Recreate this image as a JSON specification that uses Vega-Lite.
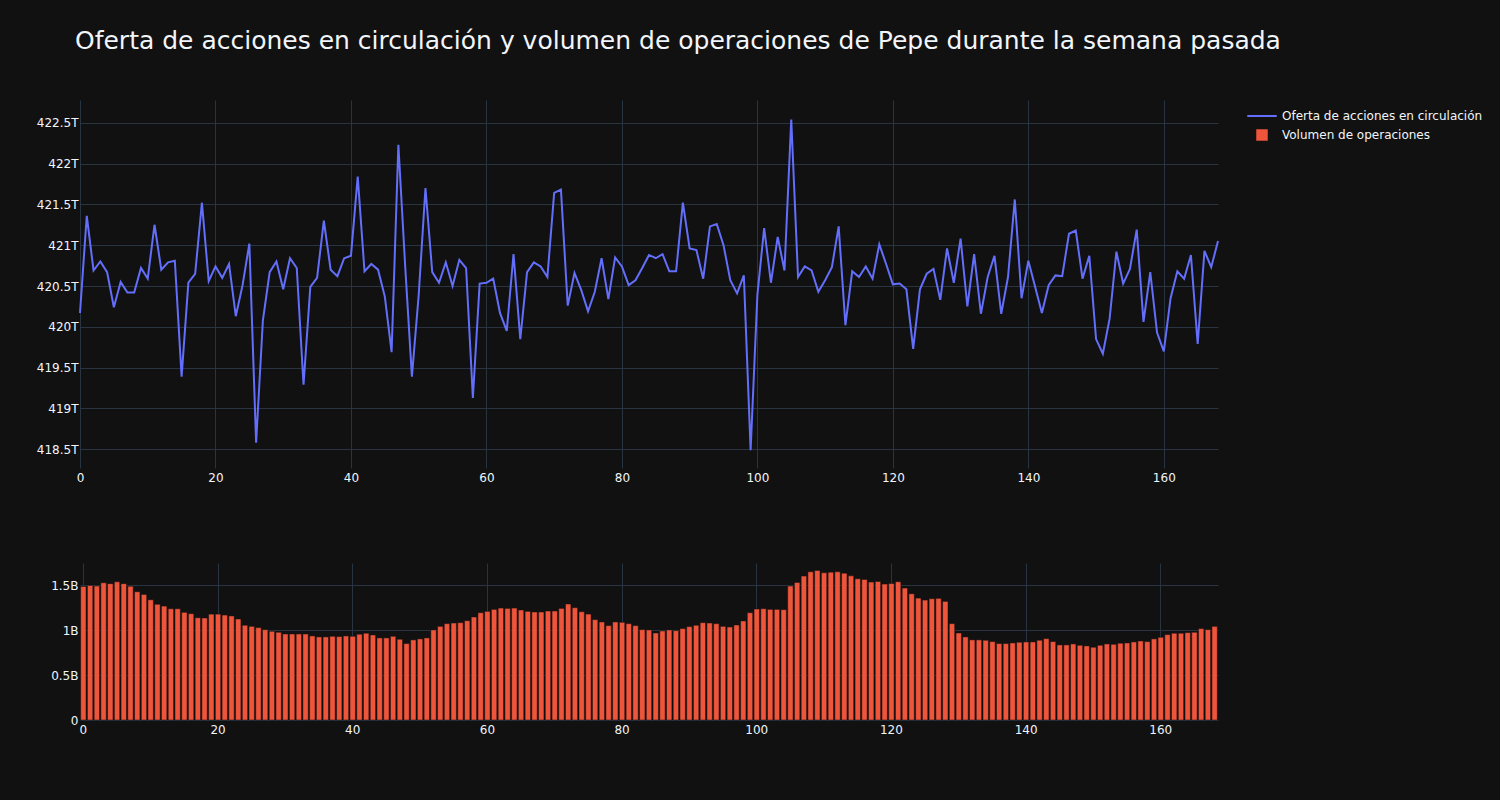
{
  "$schema": "https://vega.github.io/schema/vega-lite/v6.json",
  "background": "#111111",
  "autosize": {"type": "none"},
  "padding": {"left": 80, "top": 100, "right": 1420, "bottom": 700},
  "title": {"text": "Oferta de acciones en circulación y volumen de operaciones de Pepe durante la semana pasada", "anchor": "start", "frame": "group", "font": "DejaVu Sans", "fontSize": 25, "fontWeight": "normal", "color": "#f2f5fa", "offset": 46, "dx": -5},
  "spacing": 75,
  "config": {
    "view": {"stroke": null},
    "font": "DejaVu Sans",
    "axis": {"gridColor": "#283442", "gridWidth": 1, "domain": false, "ticks": false, "labelColor": "#f2f5fa", "labelFont": "DejaVu Sans", "labelFontSize": 12, "title": null}
  },
  "datasets": {
    "oferta": [
      {"x":0,"y":420.17},{"x":1,"y":421.36},{"x":2,"y":420.69},{"x":3,"y":420.80},{"x":4,"y":420.67},{"x":5,"y":420.24},{"x":6,"y":420.55},{"x":7,"y":420.42},{"x":8,"y":420.42},{"x":9,"y":420.72},
      {"x":10,"y":420.59},{"x":11,"y":421.25},{"x":12,"y":420.70},{"x":13,"y":420.79},{"x":14,"y":420.81},{"x":15,"y":419.39},{"x":16,"y":420.54},{"x":17,"y":420.65},{"x":18,"y":421.52},{"x":19,"y":420.56},
      {"x":20,"y":420.74},{"x":21,"y":420.60},{"x":22,"y":420.77},{"x":23,"y":420.13},{"x":24,"y":420.51},{"x":25,"y":421.02},{"x":26,"y":418.58},{"x":27,"y":420.08},{"x":28,"y":420.67},{"x":29,"y":420.80},
      {"x":30,"y":420.46},{"x":31,"y":420.84},{"x":32,"y":420.72},{"x":33,"y":419.29},{"x":34,"y":420.49},{"x":35,"y":420.60},{"x":36,"y":421.30},{"x":37,"y":420.70},{"x":38,"y":420.62},{"x":39,"y":420.84},
      {"x":40,"y":420.87},{"x":41,"y":421.84},{"x":42,"y":420.68},{"x":43,"y":420.77},{"x":44,"y":420.70},{"x":45,"y":420.37},{"x":46,"y":419.69},{"x":47,"y":422.23},{"x":48,"y":420.75},{"x":49,"y":419.39},
      {"x":50,"y":420.39},{"x":51,"y":421.70},{"x":52,"y":420.67},{"x":53,"y":420.54},{"x":54,"y":420.79},{"x":55,"y":420.50},{"x":56,"y":420.82},{"x":57,"y":420.72},{"x":58,"y":419.13},{"x":59,"y":420.53},
      {"x":60,"y":420.54},{"x":61,"y":420.59},{"x":62,"y":420.17},{"x":63,"y":419.95},{"x":64,"y":420.89},{"x":65,"y":419.85},{"x":66,"y":420.67},{"x":67,"y":420.79},{"x":68,"y":420.74},{"x":69,"y":420.61},
      {"x":70,"y":421.64},{"x":71,"y":421.68},{"x":72,"y":420.26},{"x":73,"y":420.66},{"x":74,"y":420.45},{"x":75,"y":420.19},{"x":76,"y":420.43},{"x":77,"y":420.84},{"x":78,"y":420.34},{"x":79,"y":420.85},
      {"x":80,"y":420.74},{"x":81,"y":420.51},{"x":82,"y":420.57},{"x":83,"y":420.72},{"x":84,"y":420.88},{"x":85,"y":420.84},{"x":86,"y":420.89},{"x":87,"y":420.68},{"x":88,"y":420.68},{"x":89,"y":421.52},
      {"x":90,"y":420.96},{"x":91,"y":420.94},{"x":92,"y":420.59},{"x":93,"y":421.23},{"x":94,"y":421.26},{"x":95,"y":421.00},{"x":96,"y":420.57},{"x":97,"y":420.41},{"x":98,"y":420.63},{"x":99,"y":418.49},
      {"x":100,"y":420.39},{"x":101,"y":421.21},{"x":102,"y":420.54},{"x":103,"y":421.10},{"x":104,"y":420.69},{"x":105,"y":422.54},{"x":106,"y":420.61},{"x":107,"y":420.74},{"x":108,"y":420.69},{"x":109,"y":420.43},
      {"x":110,"y":420.57},{"x":111,"y":420.73},{"x":112,"y":421.23},{"x":113,"y":420.02},{"x":114,"y":420.68},{"x":115,"y":420.61},{"x":116,"y":420.74},{"x":117,"y":420.59},{"x":118,"y":421.01},{"x":119,"y":420.77},
      {"x":120,"y":420.52},{"x":121,"y":420.53},{"x":122,"y":420.46},{"x":123,"y":419.73},{"x":124,"y":420.46},{"x":125,"y":420.65},{"x":126,"y":420.71},{"x":127,"y":420.33},{"x":128,"y":420.96},{"x":129,"y":420.54},
      {"x":130,"y":421.08},{"x":131,"y":420.25},{"x":132,"y":420.89},{"x":133,"y":420.16},{"x":134,"y":420.61},{"x":135,"y":420.87},{"x":136,"y":420.16},{"x":137,"y":420.61},{"x":138,"y":421.56},{"x":139,"y":420.35},
      {"x":140,"y":420.81},{"x":141,"y":420.49},{"x":142,"y":420.17},{"x":143,"y":420.51},{"x":144,"y":420.63},{"x":145,"y":420.62},{"x":146,"y":421.14},{"x":147,"y":421.18},{"x":148,"y":420.59},{"x":149,"y":420.87},
      {"x":150,"y":419.85},{"x":151,"y":419.67},{"x":152,"y":420.10},{"x":153,"y":420.92},{"x":154,"y":420.53},{"x":155,"y":420.71},{"x":156,"y":421.19},{"x":157,"y":420.06},{"x":158,"y":420.67},{"x":159,"y":419.93},
      {"x":160,"y":419.70},{"x":161,"y":420.35},{"x":162,"y":420.68},{"x":163,"y":420.59},{"x":164,"y":420.88},{"x":165,"y":419.79},{"x":166,"y":420.93},{"x":167,"y":420.73},{"x":168,"y":421.05}
    ],
    "volumen": [
      {"x":0,"y":1.489},{"x":1,"y":1.50},{"x":2,"y":1.493},{"x":3,"y":1.53},{"x":4,"y":1.52},{"x":5,"y":1.54},{"x":6,"y":1.52},{"x":7,"y":1.49},{"x":8,"y":1.43},{"x":9,"y":1.40},
      {"x":10,"y":1.34},{"x":11,"y":1.29},{"x":12,"y":1.27},{"x":13,"y":1.24},{"x":14,"y":1.24},{"x":15,"y":1.20},{"x":16,"y":1.185},{"x":17,"y":1.14},{"x":18,"y":1.137},{"x":19,"y":1.18},
      {"x":20,"y":1.18},{"x":21,"y":1.17},{"x":22,"y":1.16},{"x":23,"y":1.126},{"x":24,"y":1.056},{"x":25,"y":1.044},{"x":26,"y":1.03},{"x":27,"y":1.007},{"x":28,"y":0.989},{"x":29,"y":0.978},
      {"x":30,"y":0.959},{"x":31,"y":0.959},{"x":32,"y":0.959},{"x":33,"y":0.959},{"x":34,"y":0.937},{"x":35,"y":0.926},{"x":36,"y":0.926},{"x":37,"y":0.933},{"x":38,"y":0.93},{"x":39,"y":0.937},
      {"x":40,"y":0.933},{"x":41,"y":0.956},{"x":42,"y":0.967},{"x":43,"y":0.948},{"x":44,"y":0.915},{"x":45,"y":0.915},{"x":46,"y":0.933},{"x":47,"y":0.9},{"x":48,"y":0.852},{"x":49,"y":0.893},
      {"x":50,"y":0.904},{"x":51,"y":0.915},{"x":52,"y":1.004},{"x":53,"y":1.044},{"x":54,"y":1.074},{"x":55,"y":1.081},{"x":56,"y":1.085},{"x":57,"y":1.107},{"x":58,"y":1.148},{"x":59,"y":1.196},
      {"x":60,"y":1.211},{"x":61,"y":1.233},{"x":62,"y":1.248},{"x":63,"y":1.244},{"x":64,"y":1.248},{"x":65,"y":1.226},{"x":66,"y":1.211},{"x":67,"y":1.204},{"x":68,"y":1.204},{"x":69,"y":1.215},
      {"x":70,"y":1.215},{"x":71,"y":1.244},{"x":72,"y":1.293},{"x":73,"y":1.252},{"x":74,"y":1.207},{"x":75,"y":1.181},{"x":76,"y":1.119},{"x":77,"y":1.093},{"x":78,"y":1.052},{"x":79,"y":1.093},
      {"x":80,"y":1.089},{"x":81,"y":1.074},{"x":82,"y":1.052},{"x":83,"y":1.007},{"x":84,"y":1.004},{"x":85,"y":0.97},{"x":86,"y":0.993},{"x":87,"y":1.004},{"x":88,"y":0.996},{"x":89,"y":1.019},
      {"x":90,"y":1.041},{"x":91,"y":1.056},{"x":92,"y":1.085},{"x":93,"y":1.081},{"x":94,"y":1.074},{"x":95,"y":1.044},{"x":96,"y":1.037},{"x":97,"y":1.059},{"x":98,"y":1.104},{"x":99,"y":1.196},
      {"x":100,"y":1.237},{"x":101,"y":1.241},{"x":102,"y":1.233},{"x":103,"y":1.233},{"x":104,"y":1.23},{"x":105,"y":1.493},{"x":106,"y":1.533},{"x":107,"y":1.604},{"x":108,"y":1.652},{"x":109,"y":1.667},
      {"x":110,"y":1.641},{"x":111,"y":1.648},{"x":112,"y":1.652},{"x":113,"y":1.637},{"x":114,"y":1.607},{"x":115,"y":1.574},{"x":116,"y":1.567},{"x":117,"y":1.537},{"x":118,"y":1.544},{"x":119,"y":1.515},
      {"x":120,"y":1.522},{"x":121,"y":1.541},{"x":122,"y":1.47},{"x":123,"y":1.407},{"x":124,"y":1.359},{"x":125,"y":1.337},{"x":126,"y":1.352},{"x":127,"y":1.356},{"x":128,"y":1.322},{"x":129,"y":1.074},
      {"x":130,"y":0.97},{"x":131,"y":0.926},{"x":132,"y":0.893},{"x":133,"y":0.893},{"x":134,"y":0.889},{"x":135,"y":0.874},{"x":136,"y":0.852},{"x":137,"y":0.852},{"x":138,"y":0.859},{"x":139,"y":0.867},
      {"x":140,"y":0.87},{"x":141,"y":0.87},{"x":142,"y":0.889},{"x":143,"y":0.907},{"x":144,"y":0.874},{"x":145,"y":0.837},{"x":146,"y":0.837},{"x":147,"y":0.848},{"x":148,"y":0.833},{"x":149,"y":0.826},
      {"x":150,"y":0.811},{"x":151,"y":0.833},{"x":152,"y":0.848},{"x":153,"y":0.844},{"x":154,"y":0.856},{"x":155,"y":0.859},{"x":156,"y":0.87},{"x":157,"y":0.881},{"x":158,"y":0.874},{"x":159,"y":0.904},
      {"x":160,"y":0.922},{"x":161,"y":0.952},{"x":162,"y":0.967},{"x":163,"y":0.967},{"x":164,"y":0.974},{"x":165,"y":0.978},{"x":166,"y":1.019},{"x":167,"y":1.007},{"x":168,"y":1.044}
    ]
  },
  "vconcat": [
    {
      "width": 1138,
      "height": 368,
      "data": {"name": "oferta"},
      "mark": {"type": "line", "strokeWidth": 2},
      "encoding": {
        "x": {"field": "x", "type": "quantitative", "scale": {"domain": [0, 168], "nice": false, "zero": false},
              "axis": {"values": [0, 20, 40, 60, 80, 100, 120, 140, 160], "labelFlush": false, "labelPadding": 4.5, "minExtent": 20, "maxExtent": 20}},
        "y": {"field": "y", "type": "quantitative", "scale": {"domain": [418.271, 422.778], "nice": false, "zero": false},
              "axis": {"values": [418.5, 419, 419.5, 420, 420.5, 421, 421.5, 422, 422.5], "labelExpr": "format(datum.value, '~g') + 'T'", "labelPadding": 2, "minExtent": 50, "maxExtent": 50}},
        "color": {"datum": "Oferta de acciones en circulación", "type": "nominal",
                  "scale": {"domain": ["Oferta de acciones en circulación", "Volumen de operaciones"], "range": ["#636EFA", "#EF553B"]},
                  "legend": {"orient": "none", "legendX": 1176, "legendY": 10, "title": null, "labelFont": "DejaVu Sans", "labelFontSize": 12, "labelColor": "#f2f5fa", "labelLimit": 400, "rowPadding": 6, "labelOffset": 14,
                             "encode": {"symbols": {"update": {
                               "shape": {"signal": "datum.value === 'Volumen de operaciones' ? 'square' : 'stroke'"},
                               "size": {"signal": "datum.value === 'Volumen de operaciones' ? 121 : 870"},
                               "fill": {"signal": "datum.value === 'Volumen de operaciones' ? '#EF553B' : 'transparent'"},
                               "stroke": {"signal": "datum.value === 'Volumen de operaciones' ? '#444444' : '#636EFA'"},
                               "strokeWidth": {"signal": "datum.value === 'Volumen de operaciones' ? 0.5 : 2"}
                             }}}}}
      }
    },
    {
      "width": 1138,
      "height": 157,
      "data": {"name": "volumen"},
      "mark": {"type": "bar", "stroke": "#111111", "strokeWidth": 0.5},
      "encoding": {
        "x": {"field": "x", "type": "ordinal", "scale": {"paddingInner": 0.2, "paddingOuter": 0.1},
              "axis": {"values": [0, 20, 40, 60, 80, 100, 120, 140, 160], "labelAngle": 0, "grid": true, "labelPadding": 4.5, "minExtent": 20, "maxExtent": 20}},
        "y": {"field": "y", "type": "quantitative", "scale": {"domain": [0, 1.75], "nice": false},
              "axis": {"values": [0, 0.5, 1, 1.5], "labelExpr": "datum.value == 0 ? '0' : format(datum.value, '~g') + 'B'", "labelPadding": 2, "minExtent": 50, "maxExtent": 50}},
        "color": {"datum": "Volumen de operaciones", "type": "nominal"}
      }
    }
  ]
}
